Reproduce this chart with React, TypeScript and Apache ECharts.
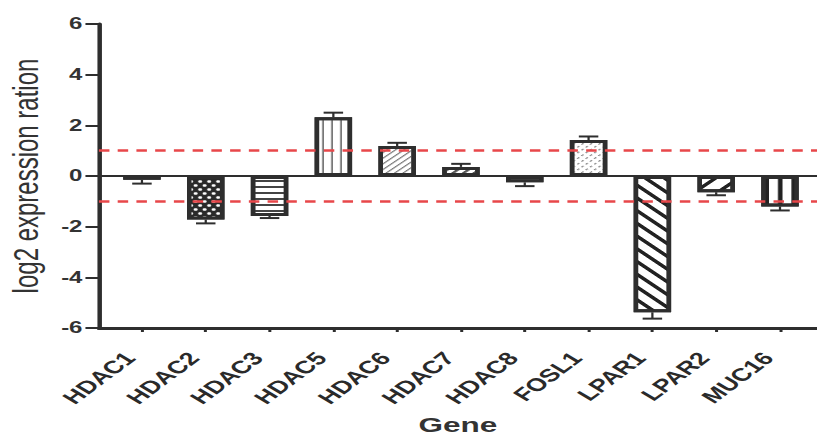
import React, { useEffect, useRef } from "react";
import * as echarts from "echarts";

const genes = ["HDAC1", "HDAC2", "HDAC3", "HDAC5", "HDAC6", "HDAC7", "HDAC8", "FOSL1", "LPAR1", "LPAR2", "MUC16"];
const values = [-0.15, -1.72, -1.58, 2.32, 1.18, 0.36, -0.25, 1.42, -5.38, -0.64, -1.2];
const errors = [0.15, 0.15, 0.08, 0.18, 0.13, 0.12, 0.15, 0.14, 0.25, 0.12, 0.16];
const thresholds = [1, -1];
const yMin = -6;
const yMax = 6;
const yStep = 2;

const SCALE_X = 817 / 545;

const dashes = { symbol: "rect", dashArrayX: [3, 2], dashArrayY: [1.5, 2], color: "#333" };
const decals: any[] = [
  dashes,
  { symbol: "circle", symbolSize: 0.9, dashArrayX: [[3, 3], [0, 3, 3, 0]], dashArrayY: [3, 0.5], color: "#fff" },
  { symbol: "rect", dashArrayX: [1, 0], dashArrayY: [1.5, 4], color: "#444" },
  { symbol: "rect", rotation: Math.PI / 2, dashArrayX: [1, 0], dashArrayY: [1, 5], color: "#555" },
  { symbol: "rect", rotation: -Math.PI / 4, dashArrayX: [1, 0], dashArrayY: [1, 3], color: "#777" },
  { symbol: "rect", rotation: -Math.PI / 4, dashArrayX: [1, 0], dashArrayY: [1.5, 2.5], color: "#555" },
  dashes,
  { symbol: "rect", rotation: -Math.PI / 4, dashArrayX: [2, 1.5], dashArrayY: [1, 2.5], color: "#888" },
  { symbol: "rect", rotation: Math.PI / 4, dashArrayX: [1, 0], dashArrayY: [3, 6], color: "#222" },
  { symbol: "rect", rotation: -Math.PI / 4, dashArrayX: [1, 0], dashArrayY: [3, 8], color: "#222" },
  { symbol: "rect", rotation: Math.PI / 2, dashArrayX: [1, 0], dashArrayY: [2.5, 5.5], color: "#222" },
];
const fills = ["#fff", "#2a2a2a", "#fff", "#fff", "#fff", "#fff", "#fff", "#fff", "#fff", "#fff", "#fff"];

export default function App() {
  const ref = useRef<HTMLDivElement>(null);
  useEffect(() => {
    if (!ref.current) return;
    const chart = echarts.init(ref.current, undefined, { renderer: "svg" });
    const idx = genes.map((_, i) => i);
    const dark = "#2e2e2e";
    chart.setOption({
      animation: false,
      grid: { left: 66, right: 0, top: 24, bottom: 109, containLabel: false, outerBoundsMode: "none" },
      xAxis: {
        type: "value",
        min: -0.674,
        max: 10.58,
        name: "Gene",
        nameLocation: "middle",
        nameGap: 86,
        nameTextStyle: { fontFamily: "Liberation Sans", fontWeight: "bold", fontSize: 21, color: "#333" },
        splitLine: { show: false },
        axisLine: { show: true, onZero: false, lineStyle: { color: dark, width: 3 } },
        axisTick: { show: true, customValues: idx, length: 4, lineStyle: { color: dark, width: 2 } },
        axisLabel: {
          customValues: idx,
          formatter: (v: number) => genes[Math.round(v)],
          rotate: 48,
          margin: 18,
          padding: [0, 12, 0, 0],
          fontFamily: "Liberation Sans",
          fontWeight: "bold",
          fontSize: 18,
          color: "#2a2a2a",
        },
      },
      yAxis: {
        type: "value",
        min: yMin,
        max: yMax,
        interval: yStep,
        name: "log2 expression ration",
        nameLocation: "middle",
        nameGap: 37,
        nameTextStyle: { fontFamily: "Liberation Sans", fontSize: 24, color: "#333" },
        splitLine: { show: false },
        axisLine: { show: true, onZero: false, lineStyle: { color: dark, width: 3 } },
        axisTick: { show: true, length: 9, lineStyle: { color: dark, width: 2 } },
        axisLabel: { margin: 11, fontFamily: "Liberation Sans", fontWeight: "bold", fontSize: 16, color: "#333" },
      },
      series: [
        {
          type: "bar",
          barWidth: 25,
          data: values.map((v, i) => ({
            value: [i, v],
            itemStyle: { color: fills[i], borderColor: dark, borderWidth: 3, decal: decals[i] },
          })),
          markLine: {
            silent: true,
            symbol: "none",
            label: { show: false },
            data: [
              { yAxis: 0, lineStyle: { color: dark, width: 2, type: "solid" } },
              ...thresholds.map((t) => ({ yAxis: t, lineStyle: { color: "#e8474a", width: 2.5, type: [7, 5.5] } })),
            ],
          },
          z: 2,
        },
        {
          type: "custom",
          z: 3,
          data: values.map((v, i) => [i, v, errors[i]]),
          renderItem: (params: any, api: any) => {
            const x = api.value(0);
            const v = api.value(1);
            const e = api.value(2);
            const end = v + (v >= 0 ? e : -e);
            const p0 = api.coord([x, v]);
            const p1 = api.coord([x, end]);
            const hw = 6.5;
            return {
              type: "group",
              children: [
                { type: "line", shape: { x1: p0[0], y1: p0[1], x2: p1[0], y2: p1[1] }, style: { stroke: dark, lineWidth: 1.5 } },
                { type: "line", shape: { x1: p1[0] - hw, y1: p1[1], x2: p1[0] + hw, y2: p1[1] }, style: { stroke: dark, lineWidth: 2 } },
              ],
            };
          },
        },
      ],
    });
    return () => chart.dispose();
  }, []);
  return (
    <div
      ref={ref}
      style={{
        position: "fixed",
        left: 0,
        top: 0,
        width: 545,
        height: 437,
        transform: `scaleX(${SCALE_X})`,
        transformOrigin: "0 0",
        background: "#fff",
      }}
    />
  );
}
